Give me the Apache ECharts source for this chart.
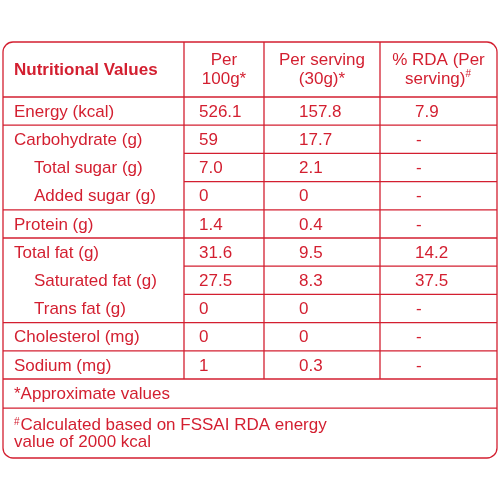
<!DOCTYPE html>
<html>
<head>
<meta charset="utf-8">
<script src="https://cdn.jsdelivr.net/npm/echarts@6/dist/echarts.min.js"></script>
<style>html,body{margin:0;padding:0;background:#fff}#main{width:500px;height:500px}</style>
</head>
<body>
<div id="main"></div>
<script>
// table content
var headers = ['Nutritional Values', 'Per\n100g*', 'Per serving\n(30g)*', '% RDA (Per\nserving){sup|#}'];
var nutrients = ['Energy (kcal)', 'Carbohydrate (g)', 'Total sugar (g)', 'Added sugar (g)', 'Protein (g)',
    'Total fat (g)', 'Saturated fat (g)', 'Trans fat (g)', 'Cholesterol (mg)', 'Sodium (mg)'];
var per100g = ['526.1', '59', '7.0', '0', '1.4', '31.6', '27.5', '0', '0', '1'];
var perServing = ['157.8', '17.7', '2.1', '0', '0.4', '9.5', '8.3', '0', '0', '0.3'];
var rda = ['7.9', '-', '-', '-', '-', '14.2', '37.5', '-', '-', '-'];
var subRow = [false, false, true, true, false, false, true, true, false, false];
var notes = ['*Approximate values', '{sup|#}Calculated based on FSSAI RDA energy\nvalue of 2000 kcal'];

var red = '#d31f30';
var colX = [3, 184, 264, 380, 497];
var top0 = 42, headH = 55, rowH = 28.2, bottom = 458;
var fam = '"Liberation Sans", Arial, sans-serif';
var font = '17px ' + fam;
var rich = {sup: {fontSize: 10, fontFamily: fam, fill: red, verticalAlign: 'top', padding: [0, 1, 8, 0]}};

var els = [];
function line(x1, y1, x2, y2) {
    els.push({type: 'line', shape: {x1: x1, y1: y1, x2: x2, y2: y2}, style: {stroke: red, lineWidth: 1.3}});
}
function text(x, y, s, opt) {
    els.push({type: 'text', x: x, y: y, style: Object.assign({text: s, fill: red, font: font, textVerticalAlign: 'middle', rich: rich}, opt || {})});
}

// outer frame
els.push({type: 'rect', shape: {x: colX[0], y: top0, width: colX[4] - colX[0], height: bottom - top0, r: 10},
    style: {fill: 'none', stroke: red, lineWidth: 1.3}});

// header
headers.forEach(function (h, i) {
    if (i == 0) {
        text(14, top0 + headH / 2 + 1, h, {font: 'bold 17px ' + fam, letterSpacing: -0.6});
    } else {
        text((colX[i] + colX[i + 1]) / 2, top0 + headH / 2, h, {textAlign: 'center', lineHeight: 19});
    }
});
var y = top0 + headH;
line(colX[0], y, colX[4], y);

// rows
var tableBottom = y + rowH * nutrients.length;
nutrients.forEach(function (n, i) {
    var ry = y + rowH * i;
    var mid = ry + rowH / 2 + 1;
    text(subRow[i] ? 34 : 14, mid, n);
    text(colX[1] + 15, mid, per100g[i]);
    text(colX[2] + 35, mid, perServing[i]);
    text(colX[3] + (rda[i] == '-' ? 36 : 35), mid, rda[i]);
    if (i > 0) {
        line(subRow[i] ? colX[1] : colX[0], ry, colX[4], ry);
    }
});
line(colX[0], tableBottom, colX[4], tableBottom);
for (var c = 1; c < 4; c++) line(colX[c], top0, colX[c], tableBottom);

// footnotes
text(14, tableBottom + rowH / 2 + 1, notes[0]);
var ny = tableBottom + rowH + 1;
line(colX[0], ny, colX[4], ny);
text(14, ny + 26, notes[1], {lineHeight: 17});

var chart = echarts.init(document.getElementById('main'));
chart.setOption({graphic: {elements: els}});
</script>
</body>
</html>
